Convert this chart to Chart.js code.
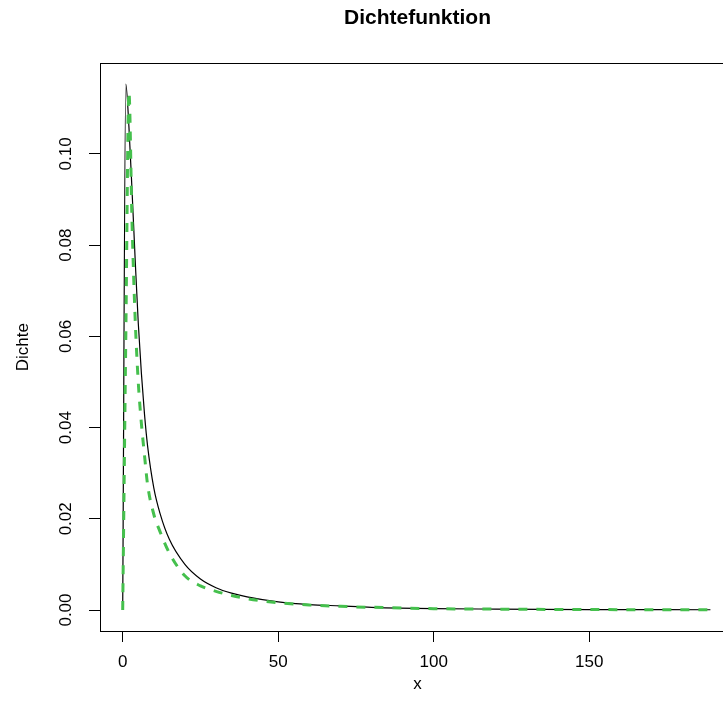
<!DOCTYPE html>
<html>
<head>
<meta charset="utf-8">
<script src="https://cdn.jsdelivr.net/npm/chart.js@4.4.1/dist/chart.umd.min.js"></script>
<style>
  html, body { margin: 0; padding: 0; background: #fff; overflow: hidden; }
  #wrap { width: 745px; height: 717px; }
</style>
</head>
<body>
<div id="wrap"><canvas id="c" width="745" height="717"></canvas></div>
<script>
// ---- data ----
const xValues = [0, 1, 2, 3, 4, 5, 6, 7, 8, 10, 12, 15, 20, 25, 30, 35, 40, 50, 60, 70, 80, 100, 120, 150, 189];
const densityBlack = [0, 0.1153, 0.106, 0.092, 0.077, 0.063, 0.052, 0.043, 0.0360, 0.0268, 0.0212, 0.0155, 0.0100, 0.0068, 0.0049, 0.0037, 0.0029, 0.0018, 0.0012, 0.0009, 0.0006, 0.0003, 0.0002, 0.0001, 0.00006];
const densityGreen = [0, 0.060, 0.1136, 0.085, 0.064, 0.050, 0.041, 0.034, 0.0275, 0.0210, 0.0172, 0.0125, 0.0075, 0.0053, 0.0041, 0.0032, 0.0025, 0.0016, 0.0011, 0.0008, 0.0006, 0.0003, 0.0002, 0.0001, 0.00006];
const xTicks = [0, 50, 100, 150];
const yTicks = [0, 0.02, 0.04, 0.06, 0.08, 0.10];
const yTickLabels = ['0.00', '0.02', '0.04', '0.06', '0.08', '0.10'];
const titleText = 'Dichtefunktion';
const xTitle = 'x';
const yTitle = 'Dichte';

const FONT = '"Liberation Sans", Arial, sans-serif';

const toPoints = (xs, ys) => xs.map((x, i) => ({ x: x, y: ys[i] }));

const boxPlugin = {
  id: 'rbox',
  afterDatasetsDraw(chart) {
    const a = chart.chartArea;
    const ctx = chart.ctx;
    ctx.save();
    ctx.strokeStyle = '#000';
    ctx.lineWidth = 1;
    ctx.strokeRect(Math.round(a.left) + 0.5, Math.round(a.top) + 0.5, Math.round(a.right - a.left), Math.round(a.bottom - a.top));
    ctx.restore();
  }
};

new Chart(document.getElementById('c'), {
  type: 'line',
  data: {
    datasets: [
      {
        label: 'green',
        data: toPoints(xValues, densityGreen),
        borderColor: '#45c04d',
        borderWidth: 3,
        borderDash: [9, 9],
        pointRadius: 0,
        fill: false,
        cubicInterpolationMode: 'monotone'
      },
      {
        label: 'black',
        data: toPoints(xValues, densityBlack),
        borderColor: '#000000',
        borderWidth: 1.2,
        pointRadius: 0,
        fill: false,
        cubicInterpolationMode: 'monotone'
      }
    ]
  },
  options: {
    responsive: false,
    animation: false,
    devicePixelRatio: 1,
    layout: { padding: { left: 0, right: 10, top: 0, bottom: 0 } },
    plugins: {
      legend: { display: false },
      tooltip: { enabled: false },
      title: {
        display: true,
        fullSize: false,
        text: titleText,
        color: '#000',
        font: { family: FONT, size: 21, weight: 'bold' },
        padding: { top: 6, bottom: 32 }
      }
    },
    scales: {
      x: {
        type: 'linear',
        min: -7.3,
        max: 196.9,
        afterBuildTicks: s => { s.ticks = xTicks.map(v => ({ value: v })); },
        afterFit: s => { s.height = 86; },
        grid: { display: true, drawOnChartArea: false, drawTicks: true, tickLength: 11, color: '#000', lineWidth: 1 },
        border: { display: false },
        ticks: {
          color: '#000',
          font: { family: FONT, size: 17 },
          padding: 10,
          maxRotation: 0,
          autoSkip: false,
          callback: v => String(v)
        },
        title: {
          display: true,
          text: xTitle,
          color: '#000',
          font: { family: FONT, size: 17 },
          padding: { top: 0, bottom: 22 }
        }
      },
      y: {
        type: 'linear',
        min: -0.0046,
        max: 0.1199,
        afterBuildTicks: s => { s.ticks = yTicks.map(v => ({ value: v })); },
        afterFit: s => { s.width = 100; },
        grid: { display: true, drawOnChartArea: false, drawTicks: true, tickLength: 11, color: '#000', lineWidth: 1 },
        border: { display: false },
        ticks: {
          color: '#000',
          font: { family: FONT, size: 17 },
          padding: 6,
          minRotation: 90,
          maxRotation: 90,
          crossAlign: 'center',
          autoSkip: false,
          callback: v => {
            const i = yTicks.findIndex(t => Math.abs(t - v) < 1e-9);
            return i >= 0 ? yTickLabels[i] : '';
          }
        },
        title: {
          display: true,
          text: yTitle,
          color: '#000',
          font: { family: FONT, size: 17 },
          padding: { top: 13, bottom: 0 }
        }
      }
    }
  },
  plugins: [boxPlugin]
});
</script>
</body>
</html>
